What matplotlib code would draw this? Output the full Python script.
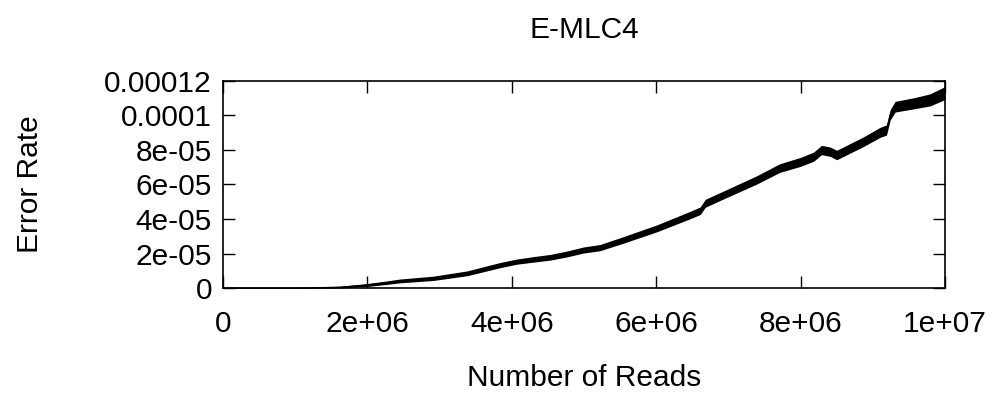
import matplotlib
matplotlib.use("Agg")
import matplotlib.pyplot as plt

plt.rcParams['font.family'] = ['Liberation Sans', 'DejaVu Sans']

# values (band centre and band height)
reads = [0, 1.07e6, 1.62e6, 1.99e6, 2.27e6, 2.45e6, 2.91e6, 3.38e6, 3.84e6,
         4.07e6, 4.30e6, 4.53e6, 4.76e6, 4.99e6, 5.22e6, 5.54e6, 6.01e6,
         6.47e6, 6.61e6, 6.68e6, 6.93e6, 7.39e6, 7.71e6, 7.99e6, 8.18e6,
         8.29e6, 8.41e6, 8.50e6, 8.64e6, 8.87e6, 9.10e6, 9.19e6, 9.24e6,
         9.31e6, 9.56e6, 9.79e6, 1.0e7]
error_rate = [0, 0, 0.5e-6, 1.7e-6, 3.1e-6, 4.1e-6, 5.6e-6, 8.5e-6, 1.33e-5,
              1.53e-5, 1.66e-5, 1.78e-5, 1.97e-5, 2.2e-5, 2.34e-5, 2.78e-5, 3.46e-5,
              4.23e-5, 4.48e-5, 4.91e-5, 5.39e-5, 6.26e-5, 6.95e-5, 7.3e-5, 7.61e-5,
              8.0e-5, 7.9e-5, 7.71e-5, 8.0e-5, 8.48e-5, 9.02e-5, 9.16e-5, 1.003e-4,
              1.051e-4, 1.07e-4, 1.09e-4, 1.13e-4]
spread = [0.6e-6, 0.6e-6, 1.0e-6, 1.7e-6, 2.0e-6, 2.2e-6, 2.5e-6, 2.8e-6, 3.0e-6,
          3.0e-6, 3.2e-6, 3.3e-6, 3.4e-6, 3.5e-6, 3.6e-6, 3.8e-6, 4.0e-6,
          4.3e-6, 4.4e-6, 4.6e-6, 4.6e-6, 4.8e-6, 5.0e-6, 5.2e-6, 5.3e-6,
          5.4e-6, 5.4e-6, 5.5e-6, 5.5e-6, 5.6e-6, 5.8e-6, 5.9e-6, 6.0e-6,
          6.2e-6, 6.4e-6, 7.0e-6, 7.5e-6]

xticks = [0, 2e6, 4e6, 6e6, 8e6, 1e7]
xlabels = ['0', '2e+06', '4e+06', '6e+06', '8e+06', '1e+07']
yticks = [0, 2e-5, 4e-5, 6e-5, 8e-5, 1e-4, 1.2e-4]
ylabels = ['0', '2e-05', '4e-05', '6e-05', '8e-05', '0.0001', '0.00012']

fig = plt.figure(figsize=(10, 3.96), dpi=100)
ax = fig.add_axes([0.223, 0.2727, 0.722, 0.5228])

lo = [m - s / 2 for m, s in zip(error_rate, spread)]
hi = [m + s / 2 for m, s in zip(error_rate, spread)]
ax.fill_between(reads, lo, hi, color='black', linewidth=0)
ax.plot(reads, error_rate, color='black', linewidth=0.8)

ax.set_xlim(0, 1e7)
ax.set_ylim(0, 1.2e-4)
ax.set_xticks(xticks)
ax.set_xticklabels(xlabels)
ax.set_yticks(yticks)
ax.set_yticklabels(ylabels)
ax.tick_params(direction='in', length=8.6, width=1, top=True, right=True,
               labelsize=21.5, colors='black')
ax.tick_params(axis='x', pad=16)
ax.tick_params(axis='y', pad=8)
for sp in ax.spines.values():
    sp.set_linewidth(1.2)

fig.text(0.584, 0.924, 'E-MLC4', ha='center', va='center', fontsize=21.5)
fig.text(0.584, 0.045, 'Number of Reads', ha='center', va='center', fontsize=21.5)
fig.text(0.03, 0.535, 'Error Rate', ha='center', va='center', rotation=90, fontsize=21.5)

fig.savefig('out.png', dpi=100)
